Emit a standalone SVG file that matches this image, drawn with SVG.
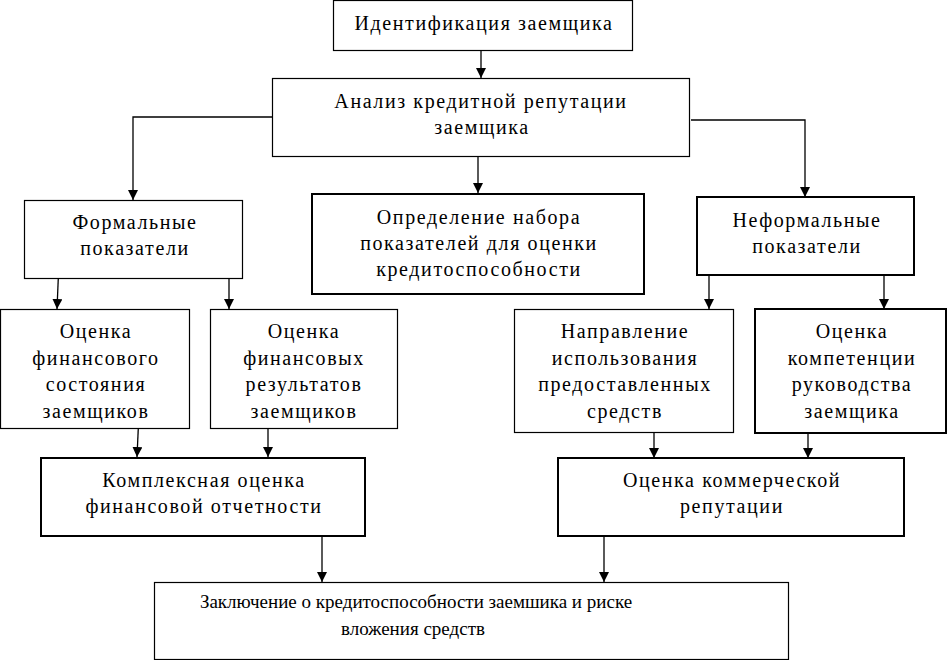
<svg xmlns="http://www.w3.org/2000/svg" width="947" height="660" viewBox="0 0 947 660">
<defs>
<style>
.b{fill:#fff;stroke:#000;stroke-width:1.2}
.t{fill:#fff;stroke:#000;stroke-width:2}
.c line,.c polyline{fill:none;stroke:#000;stroke-width:1.3;marker-end:url(#ah)}
</style>
<marker id="ah" viewBox="0 0 10 12" refX="10" refY="5" markerWidth="10" markerHeight="12" markerUnits="userSpaceOnUse" orient="auto">
<path d="M0,0 L10,5 L0,10 Z" fill="#000"/>
</marker>
</defs>
<rect width="947" height="660" fill="#fff"/>
<g class="c" id="connectors">
<line x1="481" y1="51" x2="481" y2="78"/>
<polyline points="272,117 133,117 133,200"/>
<line x1="478" y1="156" x2="478" y2="193"/>
<polyline points="691,120 805,120 805,197"/>
<line x1="58.3" y1="278" x2="57" y2="309"/>
<line x1="229" y1="278" x2="229" y2="309"/>
<line x1="709" y1="275" x2="709" y2="309"/>
<line x1="884" y1="275" x2="884" y2="309"/>
<line x1="138.3" y1="428" x2="137" y2="457"/>
<line x1="268" y1="428" x2="268" y2="457"/>
<line x1="654" y1="432" x2="654" y2="458"/>
<line x1="808" y1="434" x2="808" y2="458"/>
<line x1="322" y1="537" x2="322" y2="582"/>
<line x1="604" y1="537" x2="604" y2="582"/>
</g>
<g font-family="Liberation Serif, serif" font-size="20" letter-spacing="1.6" text-anchor="middle" fill="#000">
<g id="n1"><rect class="b" x="333.5" y="0.5" width="299" height="50"/><text x="484" y="30">Идентификация заемщика</text></g>
<g id="n2"><rect class="b" x="272.5" y="78.5" width="417" height="78"/><text x="481" y="108">Анализ кредитной репутации</text><text x="482" y="134">заемщика</text></g>
<g id="n3"><rect class="b" x="24.5" y="200.5" width="218" height="78"/><text x="135" y="229">Формальные</text><text x="135" y="255">показатели</text></g>
<g id="n4"><rect class="t" x="312" y="194" width="332" height="100"/><text x="479" y="224">Определение набора</text><text x="479" y="250">показателей для оценки</text><text x="479" y="276">кредитоспособности</text></g>
<g id="n5"><rect class="t" x="697" y="197" width="217" height="78"/><text x="807" y="227">Неформальные</text><text x="807" y="253">показатели</text></g>
<g id="n6"><rect class="b" x="0.5" y="309.5" width="189" height="119"/><text x="96" y="338">Оценка</text><text x="96" y="365">финансового</text><text x="96" y="391">состояния</text><text x="96" y="418">заемщиков</text></g>
<g id="n7"><rect class="b" x="210.5" y="309.5" width="187" height="119"/><text x="304" y="338">Оценка</text><text x="304" y="365">финансовых</text><text x="304" y="391">результатов</text><text x="304" y="418">заемщиков</text></g>
<g id="n8"><rect class="b" x="514.5" y="309.5" width="219" height="123"/><text x="625" y="338">Направление</text><text x="625" y="365">использования</text><text x="625" y="391">предоставленных</text><text x="625" y="418">средств</text></g>
<g id="n9"><rect class="t" x="755" y="309" width="191" height="124"/><text x="852" y="338">Оценка</text><text x="852" y="365">компетенции</text><text x="852" y="391">руководства</text><text x="852" y="418">заемщика</text></g>
<g id="n10"><rect class="t" x="41" y="458" width="324" height="78"/><text x="204" y="487">Комплексная оценка</text><text x="204" y="513">финансовой отчетности</text></g>
<g id="n11"><rect class="t" x="558" y="458" width="346" height="78"/><text x="732" y="487">Оценка коммерческой</text><text x="732" y="513">репутации</text></g>
<g id="n12" font-size="19" letter-spacing="0"><rect class="b" x="154.5" y="582.5" width="634" height="77"/><text x="416" y="608">Заключение о кредитоспособности заемшика и риске</text><text x="413" y="635">вложения средств</text></g>
</g>
</svg>
